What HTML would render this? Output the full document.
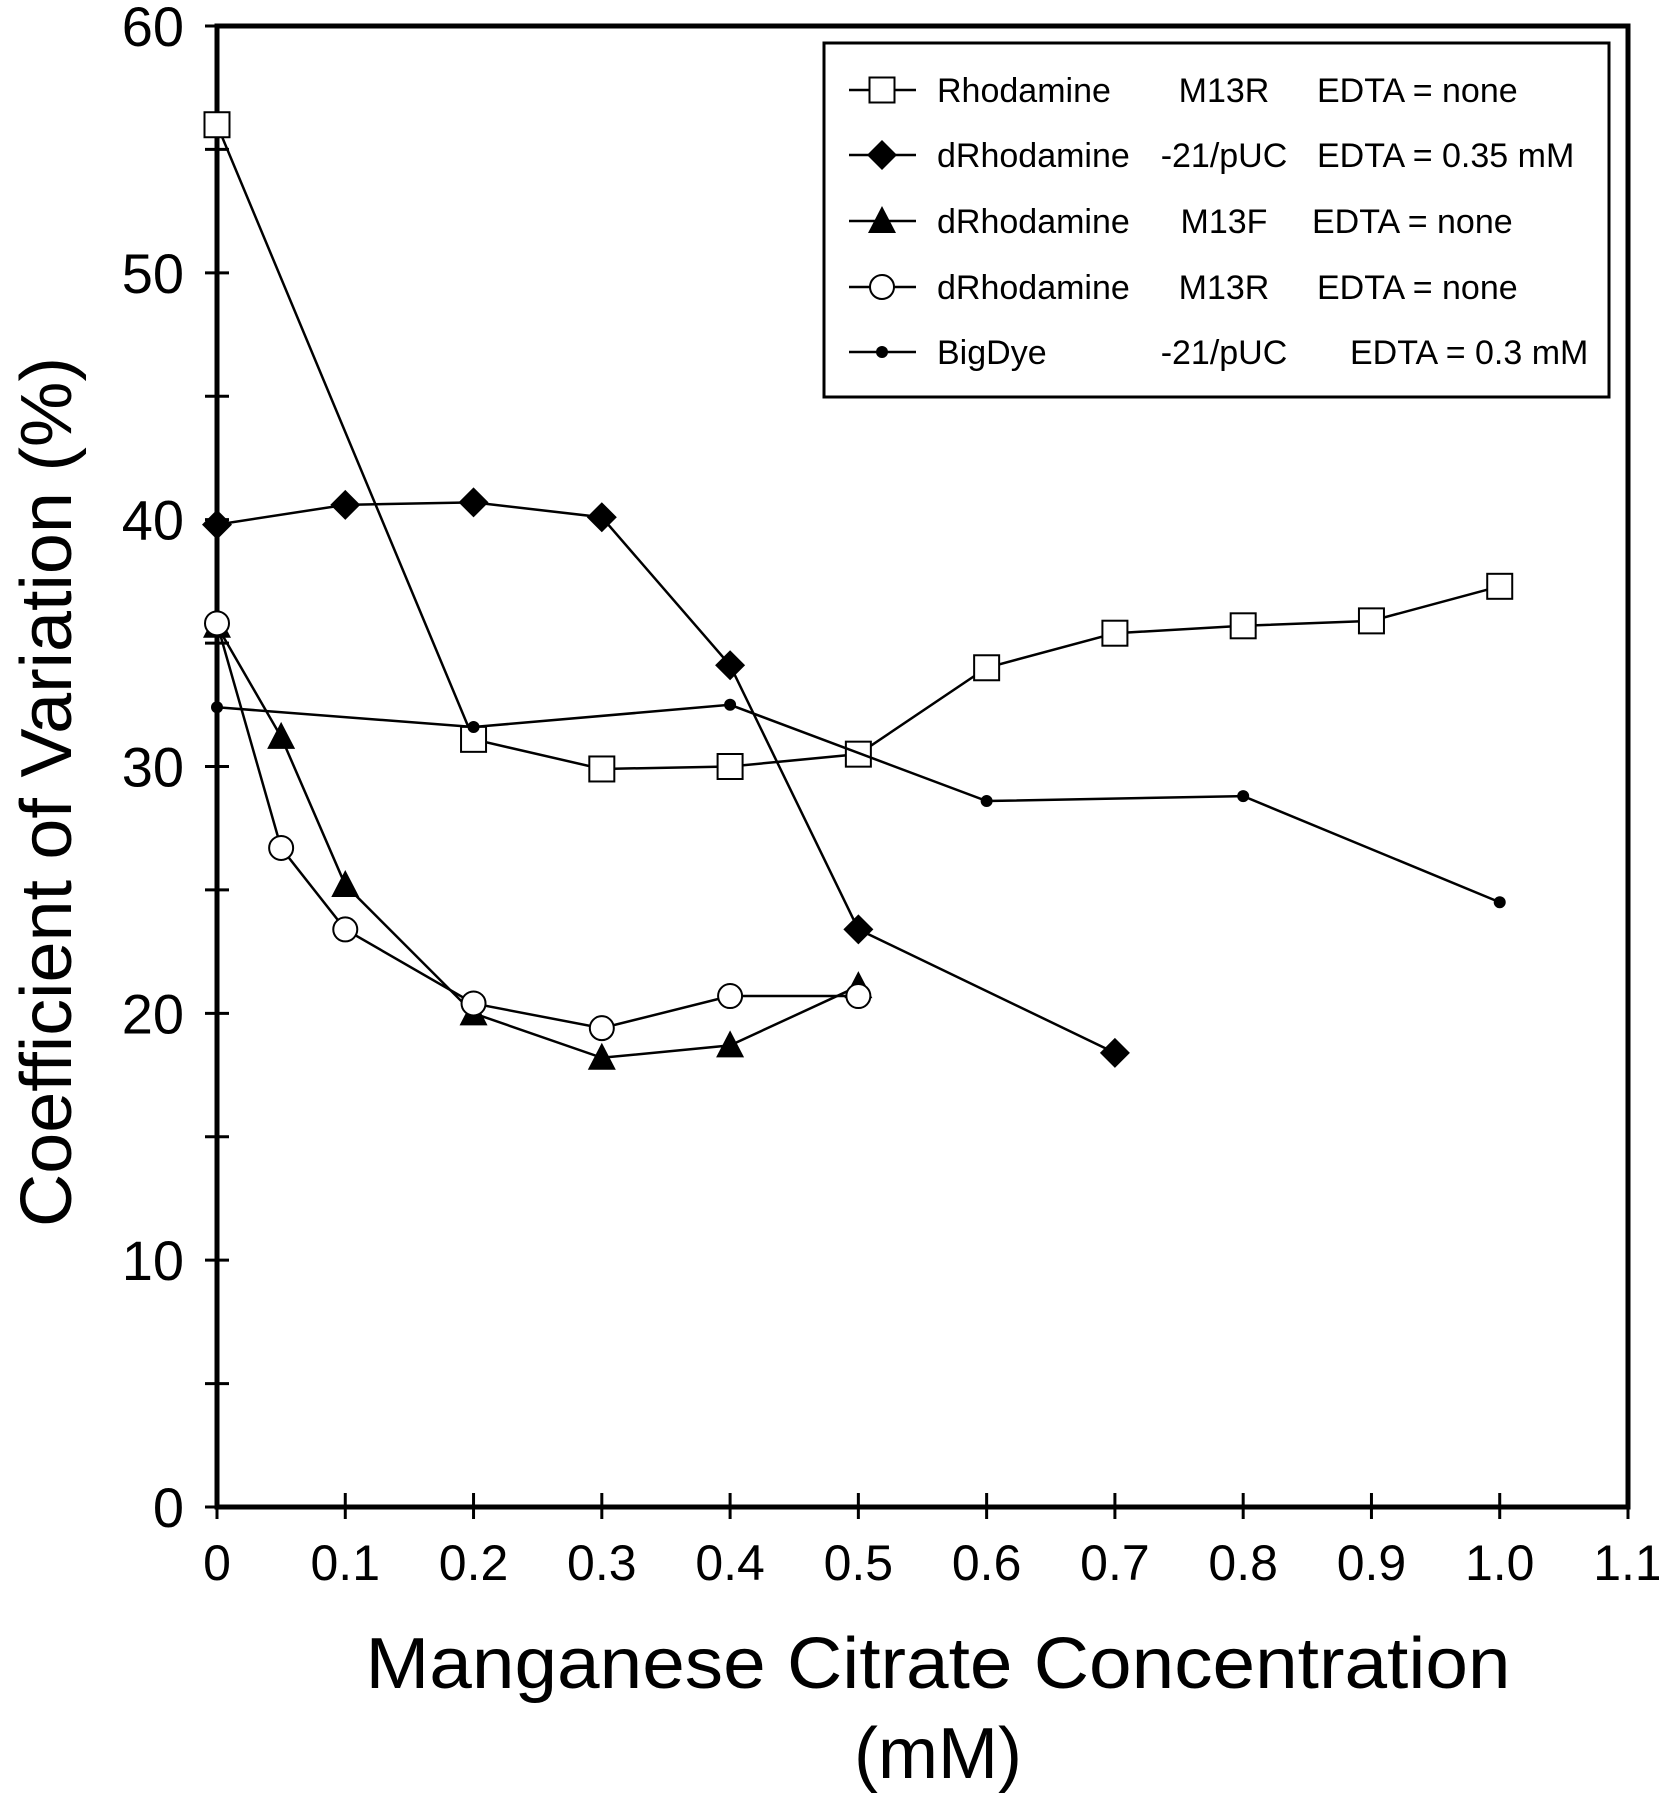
<!DOCTYPE html>
<html><head><meta charset="utf-8"><style>
html,body{margin:0;padding:0;background:#fff;}
svg{display:block;font-family:"Liberation Sans",Arial,sans-serif;}
</style></head><body>
<svg id="chart" width="1659" height="1800" viewBox="0 0 1659 1800">
<g id="axes"></g>
<g id="series"></g>
<g id="legend"></g>
<text x="0" y="0" transform="translate(71,792) rotate(-90)" text-anchor="middle" font-size="72" textLength="870" lengthAdjust="spacingAndGlyphs">Coefficient of Variation (%)</text>
<text x="938" y="1688" text-anchor="middle" font-size="72" textLength="1145" lengthAdjust="spacingAndGlyphs">Manganese Citrate Concentration</text>
<text x="938" y="1778" text-anchor="middle" font-size="72">(mM)</text>
</svg>
<script>
const xTicks=[0,0.1,0.2,0.3,0.4,0.5,0.6,0.7,0.8,0.9,1.0,1.1];
const xTickLabels=["0","0.1","0.2","0.3","0.4","0.5","0.6","0.7","0.8","0.9","1.0","1.1"];
const yTicks=[0,10,20,30,40,50,60];
const yMinorTicks=[5,15,25,35,45,55];
const rhodX=[0,0.2,0.3,0.4,0.5,0.6,0.7,0.8,0.9,1.0];
const rhodY=[56,31.1,29.9,30.0,30.5,34.0,35.4,35.7,35.9,37.3];
const drhodPucX=[0,0.1,0.2,0.3,0.4,0.5,0.7];
const drhodPucY=[39.8,40.6,40.7,40.1,34.1,23.4,18.4];
const drhodFX=[0,0.05,0.1,0.2,0.3,0.4,0.5];
const drhodFY=[35.7,31.2,25.2,20.0,18.2,18.7,21.1];
const drhodRX=[0,0.05,0.1,0.2,0.3,0.4,0.5];
const drhodRY=[35.8,26.7,23.4,20.4,19.4,20.7,20.7];
const bigX=[0,0.2,0.4,0.6,0.8,1.0];
const bigY=[32.4,31.6,32.5,28.6,28.8,24.5];
const legName=["Rhodamine","dRhodamine","dRhodamine","dRhodamine","BigDye"];
const legPrimer=["M13R","-21/pUC","M13F","M13R","-21/pUC"];
const legEdta=["EDTA = none","EDTA = 0.35 mM","EDTA = none","EDTA = none","EDTA = 0.3 mM"];

const NS="http://www.w3.org/2000/svg";
const X0=217,X1=1628,Y0=1507,Y1=26;
const xs=v=>X0+(v/1.1)*(X1-X0);
const ys=v=>Y0-(v/60)*(Y0-Y1);
function mk(tag,attrs,parent){const e=document.createElementNS(NS,tag);for(const k in attrs)e.setAttribute(k,attrs[k]);parent.appendChild(e);return e;}
const axes=document.getElementById('axes');
let e;
e=mk('rect',{x:X0,y:Y1,width:X1-X0,height:Y0-Y1,fill:'none',stroke:'#000','stroke-width':5},axes);


yTicks.forEach(v=>{
  e=mk('line',{x1:X0-12,x2:X0+12,y1:ys(v),y2:ys(v),stroke:'#000','stroke-width':3},axes);
  
  
  e=mk('text',{x:184,y:ys(v)+20,'text-anchor':'end','font-size':56},axes);
  e.textContent=String(v);
  
  
});
yMinorTicks.forEach(v=>{
  e=mk('line',{x1:X0-12,x2:X0+12,y1:ys(v),y2:ys(v),stroke:'#000','stroke-width':3},axes);
  
  
});
xTicks.forEach((v,i)=>{
  e=mk('line',{x1:xs(v),x2:xs(v),y1:Y0-14,y2:Y0+12,stroke:'#000','stroke-width':3},axes);
  
  
  e=mk('text',{x:xs(v),y:1580,'text-anchor':'middle','font-size':50},axes);
  e.textContent=xTickLabels[i];
  
  
});
function marker(type,cx,cy,parent){
  let m;
  if(type==='square')m=mk('rect',{x:cx-12.5,y:cy-12.5,width:25,height:25,fill:'#fff',stroke:'#000','stroke-width':2},parent);
  else if(type==='diamond')m=mk('polygon',{points:`${cx},${cy-15} ${cx+15},${cy} ${cx},${cy+15} ${cx-15},${cy}`,fill:'#000'},parent);
  else if(type==='triangle')m=mk('polygon',{points:`${cx},${cy-15} ${cx+14},${cy+12} ${cx-14},${cy+12}`,fill:'#000'},parent);
  else if(type==='circle')m=mk('circle',{cx:cx,cy:cy,r:12,fill:'#fff',stroke:'#000','stroke-width':2},parent);
  else m=mk('circle',{cx:cx,cy:cy,r:6,fill:'#000'},parent);
  return m;
}
const ser=document.getElementById('series');
const defs=[[rhodX,rhodY,'square','rhodamine-m13r'],[drhodPucX,drhodPucY,'diamond','drhodamine-puc'],[drhodFX,drhodFY,'triangle','drhodamine-m13f'],[drhodRX,drhodRY,'circle','drhodamine-m13r'],[bigX,bigY,'dot','bigdye-puc']];
defs.forEach(([X,Y,t,n])=>{
  const g=mk('g',{},ser);
  
  
  const pl=mk('polyline',{points:X.map((x,i)=>xs(x)+','+ys(Y[i])).join(' '),fill:'none',stroke:'#000','stroke-width':2.5},g);
  
  
  X.forEach((x,i)=>{
    const m=marker(t,xs(x),ys(Y[i]),g);
    
    
  });
});
const leg=document.getElementById('legend');
e=mk('rect',{x:824,y:43,width:785,height:354,fill:'#fff',stroke:'#000','stroke-width':3},leg);


const rowsY=[90,155,221,287,352];
defs.forEach(([X,Y,t,n],i)=>{
  const g=mk('g',{},leg);
  
  
  const y=rowsY[i];
  mk('line',{x1:849,x2:916,y1:y,y2:y,stroke:'#000','stroke-width':2.5},g);
  marker(t,882,y,g);
  let tx=mk('text',{x:937,y:y+12,'font-size':34},g);tx.textContent=legName[i];
  tx=mk('text',{x:1224,y:y+12,'font-size':34,'text-anchor':'middle'},g);tx.textContent=legPrimer[i];
  tx=mk('text',{x:i===4?1350:(i===2?1312:1317),y:y+12,'font-size':34},g);tx.textContent=legEdta[i];
});
</script>
</body></html>
